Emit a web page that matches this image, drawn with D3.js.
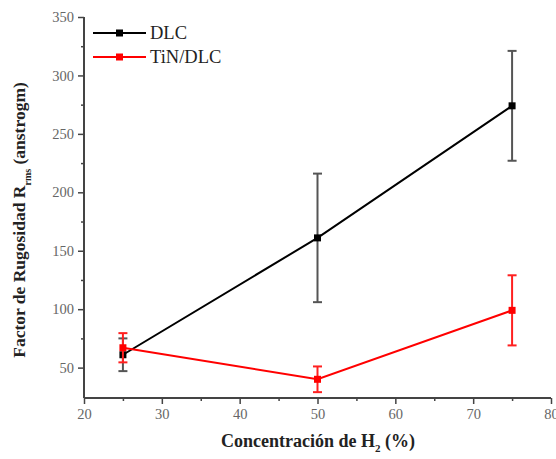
<!DOCTYPE html>
<html>
<head>
<meta charset="utf-8">
<script src="https://cdn.jsdelivr.net/npm/d3@7"></script>
<style>
  html, body { margin: 0; padding: 0; background: #fff; }
  svg { display: block; }
  svg text { font-family: "Liberation Serif", "Times New Roman", serif !important; }
</style>
</head>
<body>
<svg id="chart" width="556" height="459"></svg>
<script>
// H2 concentration (%) and roughness Rrms (angstrom) with errors
const concentration = [25, 50, 75];
const dlcValues = [61, 161, 274];
const dlcErrors = [14, 55, 47];
const tinValues = [67, 40, 99];
const tinErrors = [12.5, 11, 30];

const seriesNames = ["DLC", "TiN/DLC"];
const seriesColors = ["#000000", "#ff0000"];

const xTicks = [20, 30, 40, 50, 60, 70, 80];
const yTicks = [50, 100, 150, 200, 250, 300, 350];

const svg = d3.select("#chart");
const W = 556, H = 459;
const margin = { left: 84, right: 5, top: 17, bottom: 61 };

const x = d3.scaleLinear().domain([20, 80]).range([margin.left, 551]);
const y = d3.scaleLinear().domain([24, 350]).range([H - margin.bottom, margin.top]);

const axisColor = "#444";

function styleAxis(g) {
  g.attr("font-family", null);
  g.selectAll("line").attr("stroke", axisColor).attr("stroke-width", 1.5);
  g.selectAll("path").attr("stroke", axisColor).attr("stroke-width", 2);
  g.selectAll("text").attr("font-size", 14.5).attr("fill", "#666");
}

// x axis with minor ticks
const xMinor = svg.append("g").attr("transform", `translate(0,${y(24)})`)
  .call(d3.axisBottom(x).tickValues(d3.range(25, 80, 10)).tickSize(3).tickFormat(""));
xMinor.select(".domain").remove();
const xMajor = svg.append("g").attr("transform", `translate(0,${y(24)})`)
  .call(d3.axisBottom(x).tickValues(xTicks).tickSize(6).tickPadding(5));
styleAxis(xMinor); styleAxis(xMajor);
xMajor.select(".domain").attr("d", `M${x(20)},0H${x(80)}`);

// y axis with minor ticks
const yMinor = svg.append("g").attr("transform", `translate(${x(20)},0)`)
  .call(d3.axisLeft(y).tickValues(d3.range(75, 350, 50)).tickSize(3).tickFormat(""));
yMinor.select(".domain").remove();
const yMajor = svg.append("g").attr("transform", `translate(${x(20)},0)`)
  .call(d3.axisLeft(y).tickValues(yTicks).tickSize(6).tickPadding(4));
styleAxis(yMinor); styleAxis(yMajor);
yMajor.select(".domain").attr("d", `M0,${y(24)}V${y(350)}`);

// series
const series = [
  { name: seriesNames[0], color: seriesColors[0], values: dlcValues, errors: dlcErrors, bar: "#555" },
  { name: seriesNames[1], color: seriesColors[1], values: tinValues, errors: tinErrors, bar: "#ff2020" }
];

const line = d3.line().x(d => x(d.x)).y(d => y(d.v));

series.forEach(s => {
  const pts = concentration.map((c, i) => ({ x: c, v: s.values[i], e: s.errors[i] }));
  const g = svg.append("g");
  // error bars
  pts.forEach(p => {
    const eb = g.append("g").attr("stroke", s.bar).attr("stroke-width", 2);
    eb.append("line").attr("x1", x(p.x)).attr("x2", x(p.x))
      .attr("y1", y(p.v - p.e)).attr("y2", y(p.v + p.e));
    [p.v - p.e, p.v + p.e].forEach(v => {
      eb.append("line").attr("x1", x(p.x) - 4.5).attr("x2", x(p.x) + 4.5)
        .attr("y1", y(v)).attr("y2", y(v));
    });
  });
  g.append("path").datum(pts).attr("d", line)
    .attr("fill", "none").attr("stroke", s.color).attr("stroke-width", 2);
  g.selectAll("rect.m").data(pts).join("rect")
    .attr("x", d => x(d.x) - 3.5).attr("y", d => y(d.v) - 3.5)
    .attr("width", 7).attr("height", 7).attr("fill", s.color);
});

// legend
series.forEach((s, i) => {
  const ly = 33 + i * 24;
  const lg = svg.append("g");
  lg.append("line").attr("x1", 93).attr("x2", 146).attr("y1", ly).attr("y2", ly)
    .attr("stroke", s.color).attr("stroke-width", 2);
  lg.append("rect").attr("x", 116).attr("y", ly - 3.5).attr("width", 7).attr("height", 7)
    .attr("fill", s.color);
  lg.append("text").attr("x", 150).attr("y", ly + 6).attr("font-size", 18.5)
    .attr("fill", "#222").text(s.name);
});

// axis titles
const xt = svg.append("text").attr("x", 318).attr("y", 447)
  .attr("text-anchor", "middle").attr("font-size", 18).attr("font-weight", "bold").attr("fill", "#222");
xt.append("tspan").text("Concentración de H");
xt.append("tspan").attr("font-size", 11).attr("dy", 5).text("2");
xt.append("tspan").attr("dy", -5).text(" (%)");

const yt = svg.append("text").attr("transform", `translate(25,220) rotate(-90)`)
  .attr("text-anchor", "middle").attr("font-size", 17.5).attr("font-weight", "bold").attr("fill", "#222");
yt.append("tspan").text("Factor de Rugosidad R");
yt.append("tspan").attr("font-size", 10).attr("dy", 6).text("rms");
yt.append("tspan").attr("dy", -6).text(" (anstrogm)");
</script>
</body>
</html>
